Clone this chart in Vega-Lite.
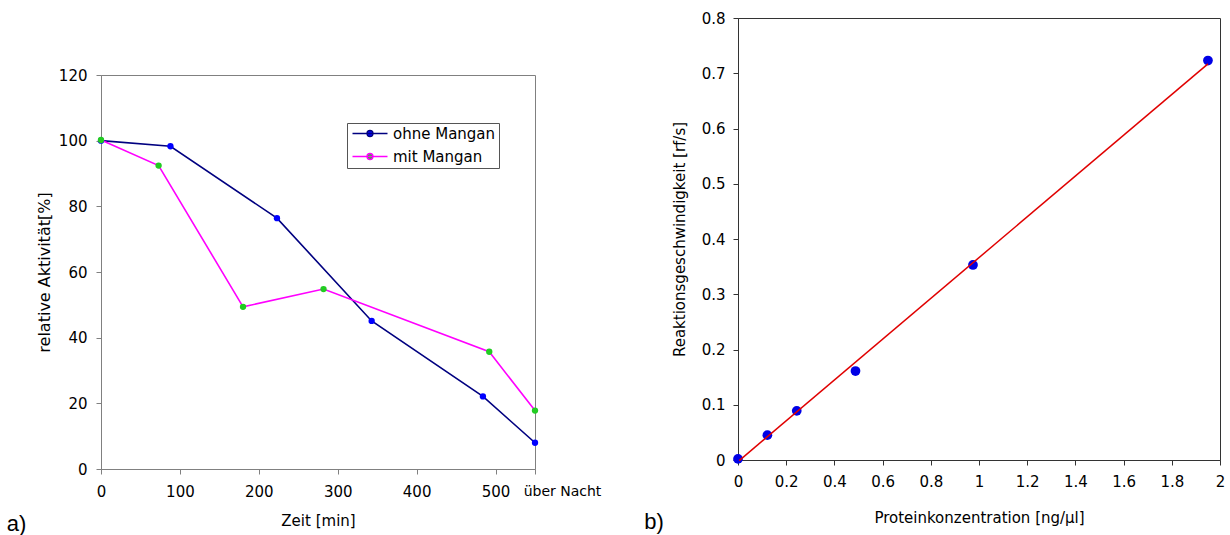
{
  "$schema": "https://vega.github.io/schema/vega-lite/v6.json",
  "background": "white",
  "padding": {"left": 6, "top": 10, "right": 5, "bottom": 3},
  "config": {
    "font": "DejaVu Sans",
    "axis": {"labelFontSize": 15, "titleFontSize": 15, "titleFontWeight": "normal", "grid": false, "labelColor": "black", "titleColor": "black", "labelFlush": false, "labelOverlap": false},
    "concat": {"spacing": 41}
  },
  "hconcat": [
    {
      "spacing": 13,
      "title": {"text": "a)", "orient": "bottom", "anchor": "start", "frame": "bounds", "offset": -15, "dx": -29, "font": "Liberation Sans", "fontSize": 22, "fontWeight": "normal", "color": "black"},
      "vconcat": [
        {
          "width": 10,
          "height": 36,
          "view": {"stroke": null},
          "data": {"values": []},
          "mark": {"type": "point", "opacity": 0}
        },
        {
          "width": 434,
          "height": 394,
          "view": {"stroke": "#808080"},
          "data": {"values": [
            {"zeit": 0, "aktiv": 100, "serie": "ohne Mangan"},
            {"zeit": 88, "aktiv": 98.3, "serie": "ohne Mangan"},
            {"zeit": 223, "aktiv": 76.4, "serie": "ohne Mangan"},
            {"zeit": 343, "aktiv": 45.1, "serie": "ohne Mangan"},
            {"zeit": 484, "aktiv": 22.1, "serie": "ohne Mangan"},
            {"zeit": 550, "aktiv": 8.0, "serie": "ohne Mangan"},
            {"zeit": 0, "aktiv": 100.2, "serie": "mit Mangan"},
            {"zeit": 73, "aktiv": 92.4, "serie": "mit Mangan"},
            {"zeit": 180, "aktiv": 49.4, "serie": "mit Mangan"},
            {"zeit": 282, "aktiv": 54.8, "serie": "mit Mangan"},
            {"zeit": 492, "aktiv": 35.7, "serie": "mit Mangan"},
            {"zeit": 550, "aktiv": 17.8, "serie": "mit Mangan"}
          ]},
          "encoding": {
            "x": {"field": "zeit", "type": "quantitative", "scale": {"domain": [0, 550], "nice": false},
              "axis": {"title": "Zeit [min]", "values": [0, 100, 200, 300, 400, 500, 550],
                "labelExpr": "datum.value == 550 ? 'über Nacht' : datum.label",
                "labelOffset": {"condition": {"test": "datum.value == 550", "value": 27}, "value": 0},
                "labelFontSize": {"condition": {"test": "datum.value == 550", "value": 14}, "value": 15},
                "tickSize": 5, "labelPadding": 10, "titlePadding": 14, "domainColor": "#808080", "tickColor": "#808080"}},
            "y": {"field": "aktiv", "type": "quantitative", "scale": {"domain": [0, 120], "nice": false},
              "axis": {"title": "relative Aktivität[%]", "values": [0, 20, 40, 60, 80, 100, 120], "tickSize": 5, "labelPadding": 9, "titlePadding": 6, "titleFontSize": 16, "domainColor": "#808080", "tickColor": "#808080"}}
          },
          "layer": [
            {
              "mark": {"type": "line", "strokeWidth": 1.6},
              "encoding": {
                "stroke": {"field": "serie", "type": "nominal",
                  "scale": {"domain": ["ohne Mangan", "mit Mangan"], "range": ["#000080", "#ff00ff"]},
                  "legend": {"orient": "none", "legendX": 246, "legendY": 105, "title": null,
                    "symbolType": "M-1,0H6M1.9,0A0.6,0.6,0,1,1,3.1,0A0.6,0.6,0,1,1,1.9,0Z",
                    "symbolSize": 100, "symbolStrokeWidth": 1.3, "labelFontSize": 15, "labelColor": "black",
                    "strokeColor": "#555555", "fillColor": "white", "padding": 3, "rowPadding": 7, "labelOffset": 28}}
              }
            },
            {
              "mark": {"type": "point", "filled": true, "size": 40, "opacity": 1},
              "encoding": {
                "fill": {"field": "serie", "type": "nominal",
                  "scale": {"domain": ["ohne Mangan", "mit Mangan"], "range": ["#0000ff", "#22cc22"]},
                  "legend": {"orient": "none", "legendX": 246, "legendY": 105, "title": null,
                    "symbolType": "M-1,0H6M1.9,0A0.6,0.6,0,1,1,3.1,0A0.6,0.6,0,1,1,1.9,0Z",
                    "symbolSize": 100, "symbolStrokeWidth": 1.3, "labelFontSize": 15, "labelColor": "black",
                    "strokeColor": "#555555", "fillColor": "white", "padding": 3, "rowPadding": 7, "labelOffset": 28}}
              }
            }
          ]
        }
      ]
    },
    {
      "width": 482,
      "height": 442,
      "view": {"stroke": "#333333"},
      "title": {"text": "b)", "orient": "bottom", "anchor": "start", "frame": "bounds", "offset": -13, "dx": -28, "font": "Liberation Sans", "fontSize": 22, "fontWeight": "normal", "color": "black"},
      "encoding": {
        "x": {"field": "konz", "type": "quantitative", "scale": {"domain": [0, 2], "nice": false},
          "axis": {"title": "Proteinkonzentration [ng/µl]", "values": [0, 0.2, 0.4, 0.6, 0.8, 1, 1.2, 1.4, 1.6, 1.8, 2], "format": "~g", "tickSize": 5, "labelPadding": 9, "titlePadding": 21, "domainColor": "#333333", "tickColor": "#333333"}},
        "y": {"field": "rate", "type": "quantitative", "scale": {"domain": [0, 0.8], "nice": false},
          "axis": {"title": "Reaktionsgeschwindigkeit [rf/s]", "values": [0, 0.1, 0.2, 0.3, 0.4, 0.5, 0.6, 0.7, 0.8], "format": "~g", "tickSize": 5, "labelPadding": 8, "titlePadding": 14, "domainColor": "#333333", "tickColor": "#333333"}}
      },
      "layer": [
        {
          "data": {"values": [
            {"konz": 0, "rate": 0.002},
            {"konz": 0.121875, "rate": 0.045},
            {"konz": 0.24375, "rate": 0.089},
            {"konz": 0.4875, "rate": 0.161},
            {"konz": 0.975, "rate": 0.353},
            {"konz": 1.95, "rate": 0.723}
          ]},
          "mark": {"type": "circle", "size": 95, "color": "#0000e6", "opacity": 1}
        },
        {
          "data": {"values": [
            {"konz": 0.005, "rate": -0.001},
            {"konz": 1.95, "rate": 0.717}
          ]},
          "mark": {"type": "line", "color": "#e00000", "strokeWidth": 1.5}
        }
      ]
    }
  ]
}
